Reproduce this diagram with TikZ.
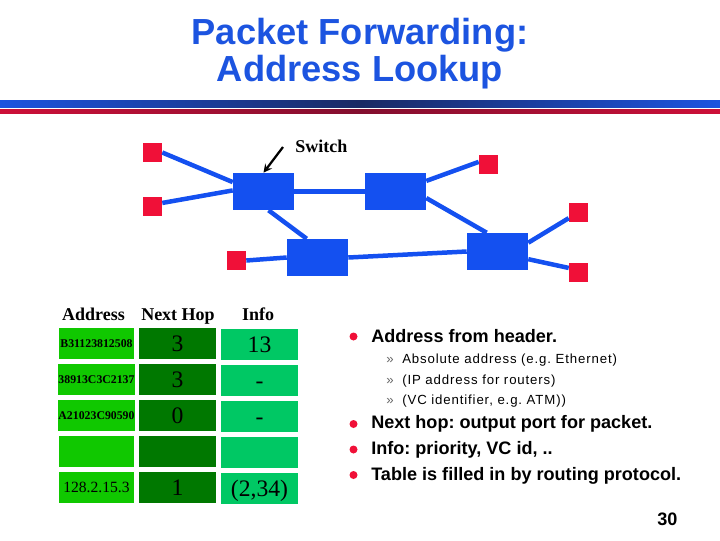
\documentclass[tikz,border=0pt]{standalone}
\usepackage{fontspec}
\setmainfont{Liberation Serif}
\newfontfamily\slidefont{Liberation Sans}
\usepackage{tikz}

\definecolor{titleblue}{RGB}{28,84,224}
\definecolor{barmidblue}{RGB}{26,42,100}
\definecolor{barred}{RGB}{205,16,56}
\definecolor{barmidred}{RGB}{130,14,46}
\definecolor{switchblue}{RGB}{20,80,240}
\definecolor{hostred}{RGB}{240,16,56}
\definecolor{addrgreen}{RGB}{16,200,0}
\definecolor{hopgreen}{RGB}{0,120,0}
\definecolor{infogreen}{RGB}{0,200,100}

\tikzset{
    switchbox/.style={fill=switchblue, minimum width=1.525cm, minimum height=.925cm, inner sep=0pt},
    hostbox/.style={fill=hostred, minimum size=.475cm, inner sep=0pt},
    link/.style={switchblue, line width=3.2pt},
    addrcell/.style={fill=addrgreen, minimum width=1.875cm, minimum height=.775cm, inner sep=0pt, text height=.2cm, text depth=0pt, font=\fontsize{8.4}{10}\selectfont\bfseries},
    hopcell/.style={fill=hopgreen, minimum width=1.925cm, minimum height=.775cm, inner sep=0pt, text height=.4cm, text depth=0pt, font=\fontsize{16.8}{18}\selectfont},
    infocell/.style={fill=infogreen, minimum width=1.925cm, minimum height=.775cm, inner sep=0pt, text height=.4cm, text depth=0pt, font=\fontsize{16.8}{18}\selectfont},
    header/.style={anchor=base, inner sep=0pt, font=\fontsize{12.8}{14}\selectfont\bfseries},
    bullet/.style={circle, fill=hostred, minimum size=.2cm, inner sep=0pt},
    mainitem/.style={anchor=base west, inner sep=0pt, font=\frenchspacing\slidefont\fontsize{12.85}{14}\selectfont\bfseries},
    subitem/.style={anchor=base west, inner sep=0pt, font=\frenchspacing\slidefont\fontsize{9.4}{11}\selectfont\addfontfeature{LetterSpace=6.6}},
    submark/.style={anchor=base west, inner sep=0pt, text=black!60, font=\slidefont\fontsize{9.4}{11}\selectfont}
}

\begin{document}
\begin{tikzpicture}[x=.025cm, y=-.025cm]
    \useasboundingbox (0,0) rectangle (720,540);

    \node (title) [align=center, text=titleblue, inner sep=0pt, font=\slidefont\fontsize{25.8}{26.4}\selectfont\bfseries] at (360,54) {Packet Forwarding:\\Address Lookup};
    \shade [left color=titleblue, right color=titleblue, middle color=barmidblue] (0,100) rectangle (720,107);
    \shade [left color=barred, right color=barred, middle color=barmidred] (0,109) rectangle (720,113);

    \node (swa) [switchbox] at (263.5,191.5) {};
    \node (swb) [switchbox] at (395.5,191.5) {};
    \node (swc) [switchbox] at (317.5,257.5) {};
    \node (swd) [switchbox] at (497.5,251.5) {};
    \node (hosta) [hostbox] at (152.5,152.5) {};
    \node (hostb) [hostbox] at (152.5,206.5) {};
    \node (hostc) [hostbox] at (236.5,260.5) {};
    \node (hostd) [hostbox] at (488.5,164.5) {};
    \node (hoste) [hostbox] at (578.5,212.5) {};
    \node (hostf) [hostbox] at (578.5,272.5) {};

    \draw [link] (hosta.east) to (swa.163);
    \draw [link] (hostb.20) to (swa.178);
    \draw [link] (swa.285) to (swc.120);
    \draw [link] (swa.east) to (swb.west);
    \draw [link] (swb.19) to (hostd.165);
    \draw [link] (swb.348) to (swd.120);
    \draw [link] (hostc.east) to (swc.west);
    \draw [link] (swc.east) to (swd.west);
    \draw [link] (swd.16) to (hoste.210);
    \draw [link] (swd.346) to (hostf.155);

    \node (switchlabel) [anchor=base west, inner sep=0pt, font=\fontsize{12.8}{14}\selectfont\bfseries] at (295,152.5) {Switch};
    \coordinate (arrowstart) at (283,147);
    \draw [->, >=stealth, line width=1.6pt] (arrowstart) to (swa.north);

    \node (headaddr) [header] at (93.5,320) {Address};
    \node (headhop) [header] at (178,320) {Next Hop};
    \node (headinfo) [header] at (258,320) {Info};

    \node (addra) [addrcell] at (96.5,343.5) {B31123812508};
    \node (addrb) [addrcell] at (96.5,379.5) {38913C3C2137};
    \node (addrc) [addrcell] at (96.5,415.5) {A21023C90590};
    \node (addrd) [addrcell] at (96.5,451.5) {};
    \node (addre) [addrcell, text height=.25cm, font=\fontsize{11.1}{12}\selectfont] at (96.5,487.5) {128.2.15.3};

    \node (hopa) [hopcell] at (177.5,343.5) {3};
    \node (hopb) [hopcell] at (177.5,379.5) {3};
    \node (hopc) [hopcell] at (177.5,415.5) {0};
    \node (hopd) [hopcell] at (177.5,451.5) {};
    \node (hope) [hopcell] at (177.5,487.5) {1};

    \node (infoa) [infocell] at (259.5,344.5) {13};
    \node (infob) [infocell] at (259.5,380.5) {-};
    \node (infoc) [infocell] at (259.5,416.5) {-};
    \node (infod) [infocell] at (259.5,452.5) {};
    \node (infoe) [infocell] at (259.5,488.5) {(2,34)};

    \node (dota) [bullet] at (353.5,336.5) {};
    \node (dotb) [bullet] at (353.5,424) {};
    \node (dotc) [bullet] at (353.5,449.5) {};
    \node (dotd) [bullet] at (353.5,475) {};

    \node (itema) [mainitem] at (371,342) {Address from header.};
    \node (marka) [submark] at (386,363) {»};
    \node (subitema) [subitem] at (402,363) {Absolute address (e.g. Ethernet)};
    \node (markb) [submark] at (386,384) {»};
    \node (subitemb) [subitem] at (402,384) {(IP address for routers)};
    \node (markc) [submark] at (386,404) {»};
    \node (subitemc) [subitem] at (402,404) {(VC identifier, e.g. ATM))};
    \node (itemb) [mainitem] at (371,428) {Next hop: output port for packet.};
    \node (itemc) [mainitem] at (371,454) {Info: priority, VC id, ..};
    \node (itemd) [mainitem] at (371,480.5) {Table is filled in by routing protocol.};

    \node (pagenum) [mainitem] at (657,525) {30};
\end{tikzpicture}
\end{document}
